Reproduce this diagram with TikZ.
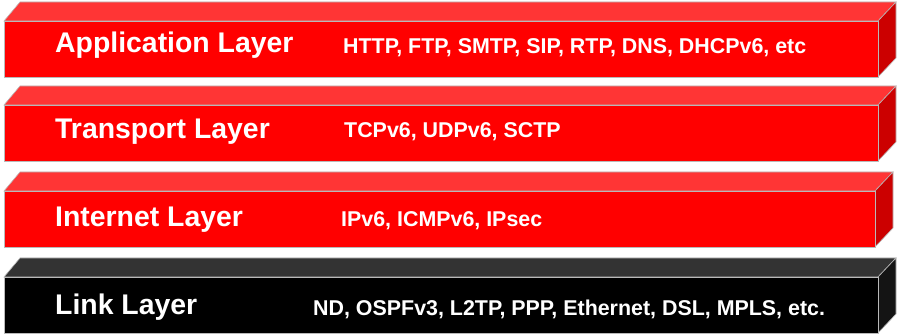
\documentclass[tikz,border=0pt]{standalone}
\usepackage{fontspec}
\setmainfont{Liberation Sans}

\definecolor{redfront}{HTML}{FF0000}
\definecolor{redtop}{HTML}{FF3535}
\definecolor{redside}{HTML}{CC0000}
\definecolor{blackfront}{HTML}{000000}
\definecolor{blacktop}{HTML}{333333}
\definecolor{blackside}{HTML}{141414}

\begin{document}
\begin{tikzpicture}[
        x=1pt, y=-1pt, % pixel-like units, y grows downwards
        face/.style = {draw=gray!55, line width=0.6pt}, % outline of every face
        layer/.style = {text=white, anchor=base west, inner sep=0pt, font=\bfseries\fontsize{28.4}{30}\selectfont},
        proto/.style = {text=white, anchor=base west, inner sep=0pt, font=\bfseries\fontsize{21.4}{24}\selectfont},
    ]
    \useasboundingbox (0,0) rectangle (904,336);

    % the four slabs: top edge / right edge of front / colour set
    \foreach \y/\r/\c in {2/878/red, 86/878/red, 172/875/red, 258/878/black} {
        \filldraw[face, fill=\c top] (4,\y+19) -- (20,\y) -- (\r+18,\y) -- (\r,\y+19) -- cycle;
        \filldraw[face, fill=\c side] (\r,\y+19) -- (\r+18,\y) -- (\r+18,\y+56) -- (\r,\y+75) -- cycle;
        \filldraw[face, fill=\c front] (4,\y+19) rectangle (\r,\y+75);
    }

    % layer names
    \node[layer] (app)  at (55,53)  {Application Layer};
    \node[layer] (tra)  at (55,139) {Transport Layer};
    \node[layer] (inet) at (55,227) {Internet Layer};
    \node[layer] (link) at (55,314) {Link Layer};

    % protocols of each layer
    \node[proto] (appP)  at (343,54)  {HTTP, FTP, SMTP, SIP, RTP, DNS, DHCPv6, etc};
    \node[proto] (traP)  at (344,138) {TCPv6, UDPv6, SCTP};
    \node[proto] (inetP) at (341,227) {IPv6, ICMPv6, IPsec};
    \node[proto] (linkP) at (313,316) {ND, OSPFv3, L2TP, PPP, Ethernet, DSL, MPLS, etc.};
\end{tikzpicture}
\end{document}
